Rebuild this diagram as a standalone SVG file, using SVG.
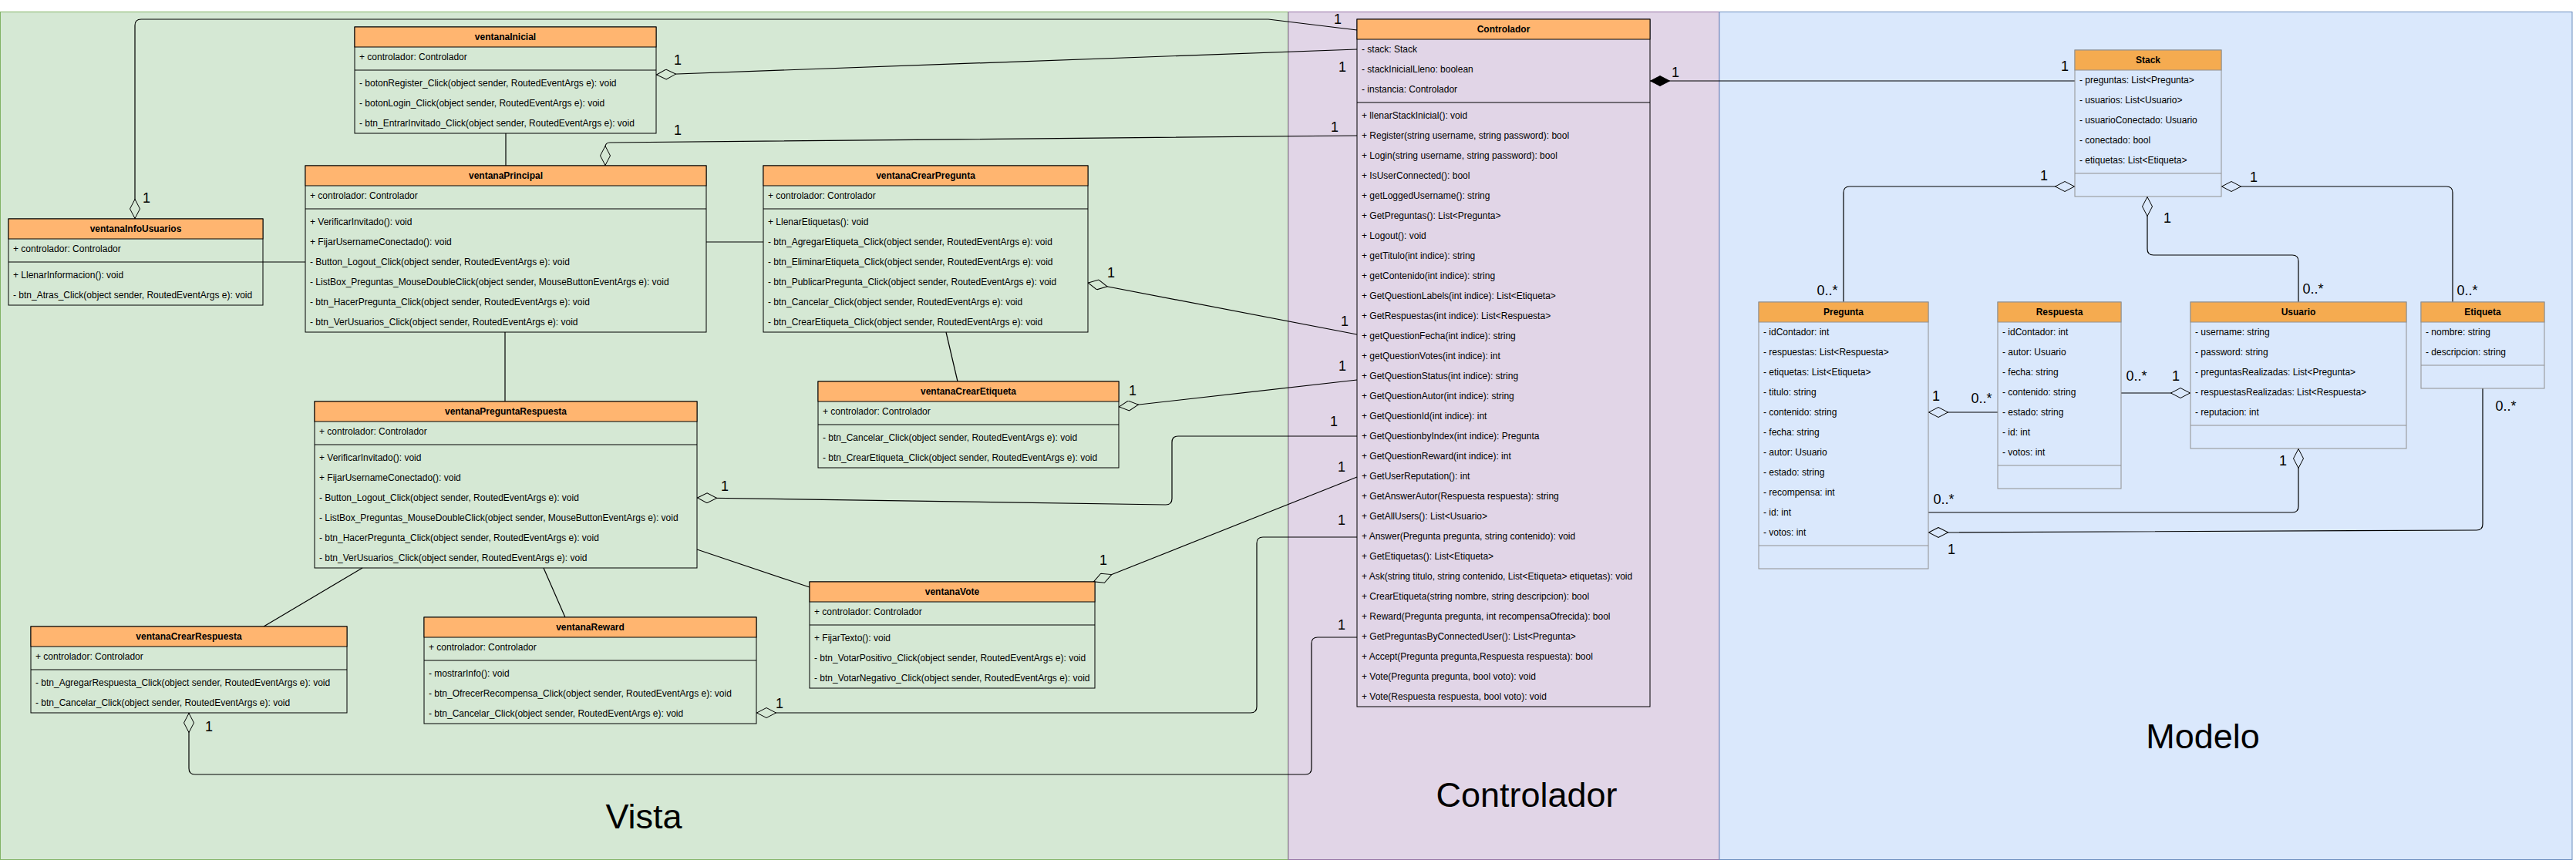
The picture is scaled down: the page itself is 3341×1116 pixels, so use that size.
<svg xmlns="http://www.w3.org/2000/svg" width="3341" height="1116" viewBox="0 0 3341 1116">
<style>
.t{font-family:"Liberation Sans",Arial,Helvetica,sans-serif;font-size:12px;fill:#000}
.h{font-weight:bold;text-anchor:middle}
.m{font-family:"Liberation Sans",Arial,Helvetica,sans-serif;font-size:18px;fill:#000;text-anchor:middle}
.big{font-family:"Liberation Sans",Arial,Helvetica,sans-serif;font-size:45px;fill:#000;text-anchor:middle}
.vb{fill:none;stroke:#000;stroke-width:1}
.vh{fill:#FFB570;stroke:#000;stroke-width:1}
.mb{fill:none;stroke:#909090;stroke-width:1}
.mh{fill:#F5AB50;stroke:#909090;stroke-width:1}
.sep{stroke:#000;stroke-width:1}
.msep{stroke:#909090;stroke-width:1}
.e{fill:none;stroke:#000;stroke-width:1.2}
</style>
<defs>
<marker id="dg" viewBox="0 0 26 14" refX="0" refY="7" markerWidth="26" markerHeight="14" markerUnits="userSpaceOnUse" orient="auto"><path d="M0.5,7 L13,0.5 L25.5,7 L13,13.5 Z" fill="#d5e8d4" stroke="#000" stroke-width="1"/></marker>
<marker id="db" viewBox="0 0 26 14" refX="0" refY="7" markerWidth="26" markerHeight="14" markerUnits="userSpaceOnUse" orient="auto"><path d="M0.5,7 L13,0.5 L25.5,7 L13,13.5 Z" fill="#dae8fc" stroke="#000" stroke-width="1"/></marker>
<marker id="df" viewBox="0 0 26 14" refX="0" refY="7" markerWidth="26" markerHeight="14" markerUnits="userSpaceOnUse" orient="auto"><path d="M0.5,7 L13,0.5 L25.5,7 L13,13.5 Z" fill="#000" stroke="#000" stroke-width="1"/></marker>
</defs>
<rect x="0" y="0" width="3341" height="1116" fill="#ffffff"/>
<g id="regions">
<rect x="0.5" y="15.5" width="1670" height="1100" fill="#d5e8d4" stroke="#82b366"/>
<rect x="1671" y="15.5" width="559" height="1100" fill="#e1d5e7" stroke="#9673a6"/>
<rect x="2230" y="15.5" width="1106" height="1100" fill="#dae8fc" stroke="#6c8ebf"/>
<text class="big" x="835" y="1075">Vista</text>
<text class="big" x="1980" y="1047">Controlador</text>
<text class="big" x="2857" y="971">Modelo</text>
</g>

<g id="connectors">
<path class="e" marker-start="url(#dg)" d="M175,284 L175,33 Q175,25 183,25 L1645,25 L1760,39"/>
<path class="e" marker-start="url(#dg)" d="M851,97 L1760,64"/>
<path class="e" marker-start="url(#dg)" d="M785,215 L785,191 Q785,185 791,185 L1760,176"/>
<path class="e" d="M341,340 L396,340"/>
<path class="e" d="M656,173 L656,215"/>
<path class="e" d="M916,314 L990,314"/>
<path class="e" d="M655,431 L655,521"/>
<path class="e" marker-start="url(#dg)" d="M1411,367 L1760,434"/>
<path class="e" d="M1227,431 L1242,495"/>
<path class="e" marker-start="url(#dg)" d="M1451,528 L1760,493"/>
<path class="e" marker-start="url(#dg)" d="M904,646 L1512,655 Q1520,655 1520,647 L1520,574 Q1520,566 1528,566 L1760,566"/>
<path class="e" d="M904,713 L1050,762"/>
<path class="e" marker-start="url(#dg)" d="M1418,755 L1760,619"/>
<path class="e" marker-start="url(#dg)" d="M981,925 L1622,925 Q1630,925 1630,917 L1630,705 Q1630,697 1638,697 L1760,697"/>
<path class="e" marker-start="url(#dg)" d="M245,925 L245,997 Q245,1005 253,1005 L1693,1005 Q1701,1005 1701,997 L1701,835 Q1701,827 1709,827 L1760,827"/>
<path class="e" d="M470,737 L342,813"/>
<path class="e" d="M705,737 L733,801"/>
<path class="e" marker-start="url(#df)" d="M2140,105 L2691,105"/>
<path class="e" marker-start="url(#db)" d="M2691,242 L2399,242 Q2391,242 2391,250 L2391,392"/>
<path class="e" marker-start="url(#db)" d="M2785,255 L2785,323 Q2785,331 2793,331 L2973,331 Q2981,331 2981,339 L2981,392"/>
<path class="e" marker-start="url(#db)" d="M2881,242 L3173,242 Q3181,242 3181,250 L3181,392"/>
<path class="e" marker-start="url(#db)" d="M2501,535 L2591,535"/>
<path class="e" marker-start="url(#db)" d="M2841,510 L2751,510"/>
<path class="e" marker-start="url(#db)" d="M2981,582 L2981,657 Q2981,665 2973,665 L2501,665"/>
<path class="e" marker-start="url(#db)" d="M2501,691 L3212,688 Q3220,688 3220,680 L3220,504"/>
<text class="m" x="190" y="263">1</text>
<text class="m" x="1735" y="31">1</text>
<text class="m" x="879" y="84">1</text>
<text class="m" x="1741" y="93">1</text>
<text class="m" x="879" y="175">1</text>
<text class="m" x="1731" y="171">1</text>
<text class="m" x="1441" y="360">1</text>
<text class="m" x="1744" y="423">1</text>
<text class="m" x="1469" y="513">1</text>
<text class="m" x="1741" y="481">1</text>
<text class="m" x="940" y="637">1</text>
<text class="m" x="1730" y="553">1</text>
<text class="m" x="1431" y="733">1</text>
<text class="m" x="1740" y="612">1</text>
<text class="m" x="1011" y="919">1</text>
<text class="m" x="1740" y="681">1</text>
<text class="m" x="271" y="949">1</text>
<text class="m" x="1740" y="817">1</text>
<text class="m" x="2173" y="100">1</text>
<text class="m" x="2678" y="92">1</text>
<text class="m" x="2651" y="234">1</text>
<text class="m" x="2370" y="383">0..*</text>
<text class="m" x="2811" y="289">1</text>
<text class="m" x="3000" y="381">0..*</text>
<text class="m" x="2923" y="236">1</text>
<text class="m" x="3200" y="383">0..*</text>
<text class="m" x="2511" y="520">1</text>
<text class="m" x="2570" y="523">0..*</text>
<text class="m" x="2771" y="494">0..*</text>
<text class="m" x="2822" y="494">1</text>
<text class="m" x="2961" y="604">1</text>
<text class="m" x="2521" y="654">0..*</text>
<text class="m" x="3250" y="533">0..*</text>
<text class="m" x="2531" y="719">1</text>
</g>

<g id="ventanaInicial">
<rect class="vb" x="460" y="35" width="391" height="138"/>
<rect class="vh" x="460" y="35" width="391" height="26"/>
<line class="sep" x1="460" y1="91" x2="851" y2="91"/>
<text class="t h" x="655.5" y="52">ventanaInicial</text>
<text class="t" x="466" y="78">+ controlador: Controlador</text>
<text class="t" x="466" y="112">- botonRegister_Click(object sender, RoutedEventArgs e): void</text>
<text class="t" x="466" y="138">- botonLogin_Click(object sender, RoutedEventArgs e): void</text>
<text class="t" x="466" y="164">- btn_EntrarInvitado_Click(object sender, RoutedEventArgs e): void</text>
</g>

<g id="ventanaPrincipal">
<rect class="vb" x="396" y="215" width="520" height="216"/>
<rect class="vh" x="396" y="215" width="520" height="26"/>
<line class="sep" x1="396" y1="271" x2="916" y2="271"/>
<text class="t h" x="656" y="232">ventanaPrincipal</text>
<text class="t" x="402" y="258">+ controlador: Controlador</text>
<text class="t" x="402" y="292">+ VerificarInvitado(): void</text>
<text class="t" x="402" y="318">+ FijarUsernameConectado(): void</text>
<text class="t" x="402" y="344">- Button_Logout_Click(object sender, RoutedEventArgs e): void</text>
<text class="t" x="402" y="370">- ListBox_Preguntas_MouseDoubleClick(object sender, MouseButtonEventArgs e): void</text>
<text class="t" x="402" y="396">- btn_HacerPregunta_Click(object sender, RoutedEventArgs e): void</text>
<text class="t" x="402" y="422">- btn_VerUsuarios_Click(object sender, RoutedEventArgs e): void</text>
</g>

<g id="ventanaInfoUsuarios">
<rect class="vb" x="11" y="284" width="330" height="112"/>
<rect class="vh" x="11" y="284" width="330" height="26"/>
<line class="sep" x1="11" y1="340" x2="341" y2="340"/>
<text class="t h" x="176" y="301">ventanaInfoUsuarios</text>
<text class="t" x="17" y="327">+ controlador: Controlador</text>
<text class="t" x="17" y="361">+ LlenarInformacion(): void</text>
<text class="t" x="17" y="387">- btn_Atras_Click(object sender, RoutedEventArgs e): void</text>
</g>

<g id="ventanaCrearPregunta">
<rect class="vb" x="990" y="215" width="421" height="216"/>
<rect class="vh" x="990" y="215" width="421" height="26"/>
<line class="sep" x1="990" y1="271" x2="1411" y2="271"/>
<text class="t h" x="1200.5" y="232">ventanaCrearPregunta</text>
<text class="t" x="996" y="258">+ controlador: Controlador</text>
<text class="t" x="996" y="292">+ LlenarEtiquetas(): void</text>
<text class="t" x="996" y="318">- btn_AgregarEtiqueta_Click(object sender, RoutedEventArgs e): void</text>
<text class="t" x="996" y="344">- btn_EliminarEtiqueta_Click(object sender, RoutedEventArgs e): void</text>
<text class="t" x="996" y="370">- btn_PublicarPregunta_Click(object sender, RoutedEventArgs e): void</text>
<text class="t" x="996" y="396">- btn_Cancelar_Click(object sender, RoutedEventArgs e): void</text>
<text class="t" x="996" y="422">- btn_CrearEtiqueta_Click(object sender, RoutedEventArgs e): void</text>
</g>

<g id="ventanaCrearEtiqueta">
<rect class="vb" x="1061" y="495" width="390" height="112"/>
<rect class="vh" x="1061" y="495" width="390" height="26"/>
<line class="sep" x1="1061" y1="551" x2="1451" y2="551"/>
<text class="t h" x="1256" y="512">ventanaCrearEtiqueta</text>
<text class="t" x="1067" y="538">+ controlador: Controlador</text>
<text class="t" x="1067" y="572">- btn_Cancelar_Click(object sender, RoutedEventArgs e): void</text>
<text class="t" x="1067" y="598">- btn_CrearEtiqueta_Click(object sender, RoutedEventArgs e): void</text>
</g>

<g id="ventanaPreguntaRespuesta">
<rect class="vb" x="408" y="521" width="496" height="216"/>
<rect class="vh" x="408" y="521" width="496" height="26"/>
<line class="sep" x1="408" y1="577" x2="904" y2="577"/>
<text class="t h" x="656" y="538">ventanaPreguntaRespuesta</text>
<text class="t" x="414" y="564">+ controlador: Controlador</text>
<text class="t" x="414" y="598">+ VerificarInvitado(): void</text>
<text class="t" x="414" y="624">+ FijarUsernameConectado(): void</text>
<text class="t" x="414" y="650">- Button_Logout_Click(object sender, RoutedEventArgs e): void</text>
<text class="t" x="414" y="676">- ListBox_Preguntas_MouseDoubleClick(object sender, MouseButtonEventArgs e): void</text>
<text class="t" x="414" y="702">- btn_HacerPregunta_Click(object sender, RoutedEventArgs e): void</text>
<text class="t" x="414" y="728">- btn_VerUsuarios_Click(object sender, RoutedEventArgs e): void</text>
</g>

<g id="ventanaCrearRespuesta">
<rect class="vb" x="40" y="813" width="410" height="112"/>
<rect class="vh" x="40" y="813" width="410" height="26"/>
<line class="sep" x1="40" y1="869" x2="450" y2="869"/>
<text class="t h" x="245" y="830">ventanaCrearRespuesta</text>
<text class="t" x="46" y="856">+ controlador: Controlador</text>
<text class="t" x="46" y="890">- btn_AgregarRespuesta_Click(object sender, RoutedEventArgs e): void</text>
<text class="t" x="46" y="916">- btn_Cancelar_Click(object sender, RoutedEventArgs e): void</text>
</g>

<g id="ventanaReward">
<rect class="vb" x="550" y="801" width="431" height="138"/>
<rect class="vh" x="550" y="801" width="431" height="26"/>
<line class="sep" x1="550" y1="857" x2="981" y2="857"/>
<text class="t h" x="765.5" y="818">ventanaReward</text>
<text class="t" x="556" y="844">+ controlador: Controlador</text>
<text class="t" x="556" y="878">- mostrarInfo(): void</text>
<text class="t" x="556" y="904">- btn_OfrecerRecompensa_Click(object sender, RoutedEventArgs e): void</text>
<text class="t" x="556" y="930">- btn_Cancelar_Click(object sender, RoutedEventArgs e): void</text>
</g>

<g id="ventanaVote">
<rect class="vb" x="1050" y="755" width="370" height="138"/>
<rect class="vh" x="1050" y="755" width="370" height="26"/>
<line class="sep" x1="1050" y1="811" x2="1420" y2="811"/>
<text class="t h" x="1235" y="772">ventanaVote</text>
<text class="t" x="1056" y="798">+ controlador: Controlador</text>
<text class="t" x="1056" y="832">+ FijarTexto(): void</text>
<text class="t" x="1056" y="858">- btn_VotarPositivo_Click(object sender, RoutedEventArgs e): void</text>
<text class="t" x="1056" y="884">- btn_VotarNegativo_Click(object sender, RoutedEventArgs e): void</text>
</g>

<g id="Controlador">
<rect class="vb" x="1760" y="25" width="380" height="892"/>
<rect class="vh" x="1760" y="25" width="380" height="26"/>
<line class="sep" x1="1760" y1="133" x2="2140" y2="133"/>
<text class="t h" x="1950" y="42">Controlador</text>
<text class="t" x="1766" y="68">- stack: Stack</text>
<text class="t" x="1766" y="94">- stackInicialLleno: boolean</text>
<text class="t" x="1766" y="120">- instancia: Controlador</text>
<text class="t" x="1766" y="154">+ llenarStackInicial(): void</text>
<text class="t" x="1766" y="180">+ Register(string username, string password): bool</text>
<text class="t" x="1766" y="206">+ Login(string username, string password): bool</text>
<text class="t" x="1766" y="232">+ IsUserConnected(): bool</text>
<text class="t" x="1766" y="258">+ getLoggedUsername(): string</text>
<text class="t" x="1766" y="284">+ GetPreguntas(): List&lt;Pregunta&gt;</text>
<text class="t" x="1766" y="310">+ Logout(): void</text>
<text class="t" x="1766" y="336">+ getTitulo(int indice): string</text>
<text class="t" x="1766" y="362">+ getContenido(int indice): string</text>
<text class="t" x="1766" y="388">+ GetQuestionLabels(int indice): List&lt;Etiqueta&gt;</text>
<text class="t" x="1766" y="414">+ GetRespuestas(int indice): List&lt;Respuesta&gt;</text>
<text class="t" x="1766" y="440">+ getQuestionFecha(int indice): string</text>
<text class="t" x="1766" y="466">+ getQuestionVotes(int indice): int</text>
<text class="t" x="1766" y="492">+ GetQuestionStatus(int indice): string</text>
<text class="t" x="1766" y="518">+ GetQuestionAutor(int indice): string</text>
<text class="t" x="1766" y="544">+ GetQuestionId(int indice): int</text>
<text class="t" x="1766" y="570">+ GetQuestionbyIndex(int indice): Pregunta</text>
<text class="t" x="1766" y="596">+ GetQuestionReward(int indice): int</text>
<text class="t" x="1766" y="622">+ GetUserReputation(): int</text>
<text class="t" x="1766" y="648">+ GetAnswerAutor(Respuesta respuesta): string</text>
<text class="t" x="1766" y="674">+ GetAllUsers(): List&lt;Usuario&gt;</text>
<text class="t" x="1766" y="700">+ Answer(Pregunta pregunta, string contenido): void</text>
<text class="t" x="1766" y="726">+ GetEtiquetas(): List&lt;Etiqueta&gt;</text>
<text class="t" x="1766" y="752">+ Ask(string titulo, string contenido, List&lt;Etiqueta&gt; etiquetas): void</text>
<text class="t" x="1766" y="778">+ CrearEtiqueta(string nombre, string descripcion): bool</text>
<text class="t" x="1766" y="804">+ Reward(Pregunta pregunta, int recompensaOfrecida): bool</text>
<text class="t" x="1766" y="830">+ GetPreguntasByConnectedUser(): List&lt;Pregunta&gt;</text>
<text class="t" x="1766" y="856">+ Accept(Pregunta pregunta,Respuesta respuesta): bool</text>
<text class="t" x="1766" y="882">+ Vote(Pregunta pregunta, bool voto): void</text>
<text class="t" x="1766" y="908">+ Vote(Respuesta respuesta, bool voto): void</text>
</g>

<g id="Stack">
<rect class="mb" x="2691" y="65" width="190" height="190"/>
<rect class="mh" x="2691" y="65" width="190" height="26"/>
<line class="msep" x1="2691" y1="225" x2="2881" y2="225"/>
<text class="t h" x="2786" y="82">Stack</text>
<text class="t" x="2697" y="108">- preguntas: List&lt;Pregunta&gt;</text>
<text class="t" x="2697" y="134">- usuarios: List&lt;Usuario&gt;</text>
<text class="t" x="2697" y="160">- usuarioConectado: Usuario</text>
<text class="t" x="2697" y="186">- conectado: bool</text>
<text class="t" x="2697" y="212">- etiquetas: List&lt;Etiqueta&gt;</text>
</g>

<g id="Pregunta">
<rect class="mb" x="2281" y="392" width="220" height="346"/>
<rect class="mh" x="2281" y="392" width="220" height="26"/>
<line class="msep" x1="2281" y1="708" x2="2501" y2="708"/>
<text class="t h" x="2391" y="409">Pregunta</text>
<text class="t" x="2287" y="435">- idContador: int</text>
<text class="t" x="2287" y="461">- respuestas: List&lt;Respuesta&gt;</text>
<text class="t" x="2287" y="487">- etiquetas: List&lt;Etiqueta&gt;</text>
<text class="t" x="2287" y="513">- titulo: string</text>
<text class="t" x="2287" y="539">- contenido: string</text>
<text class="t" x="2287" y="565">- fecha: string</text>
<text class="t" x="2287" y="591">- autor: Usuario</text>
<text class="t" x="2287" y="617">- estado: string</text>
<text class="t" x="2287" y="643">- recompensa: int</text>
<text class="t" x="2287" y="669">- id: int</text>
<text class="t" x="2287" y="695">- votos: int</text>
</g>

<g id="Respuesta">
<rect class="mb" x="2591" y="392" width="160" height="242"/>
<rect class="mh" x="2591" y="392" width="160" height="26"/>
<line class="msep" x1="2591" y1="604" x2="2751" y2="604"/>
<text class="t h" x="2671" y="409">Respuesta</text>
<text class="t" x="2597" y="435">- idContador: int</text>
<text class="t" x="2597" y="461">- autor: Usuario</text>
<text class="t" x="2597" y="487">- fecha: string</text>
<text class="t" x="2597" y="513">- contenido: string</text>
<text class="t" x="2597" y="539">- estado: string</text>
<text class="t" x="2597" y="565">- id: int</text>
<text class="t" x="2597" y="591">- votos: int</text>
</g>

<g id="Usuario">
<rect class="mb" x="2841" y="392" width="280" height="190"/>
<rect class="mh" x="2841" y="392" width="280" height="26"/>
<line class="msep" x1="2841" y1="552" x2="3121" y2="552"/>
<text class="t h" x="2981" y="409">Usuario</text>
<text class="t" x="2847" y="435">- username: string</text>
<text class="t" x="2847" y="461">- password: string</text>
<text class="t" x="2847" y="487">- preguntasRealizadas: List&lt;Pregunta&gt;</text>
<text class="t" x="2847" y="513">- respuestasRealizadas: List&lt;Respuesta&gt;</text>
<text class="t" x="2847" y="539">- reputacion: int</text>
</g>

<g id="Etiqueta">
<rect class="mb" x="3140" y="392" width="160" height="112"/>
<rect class="mh" x="3140" y="392" width="160" height="26"/>
<line class="msep" x1="3140" y1="474" x2="3300" y2="474"/>
<text class="t h" x="3220" y="409">Etiqueta</text>
<text class="t" x="3146" y="435">- nombre: string</text>
<text class="t" x="3146" y="461">- descripcion: string</text>
</g>
</svg>
